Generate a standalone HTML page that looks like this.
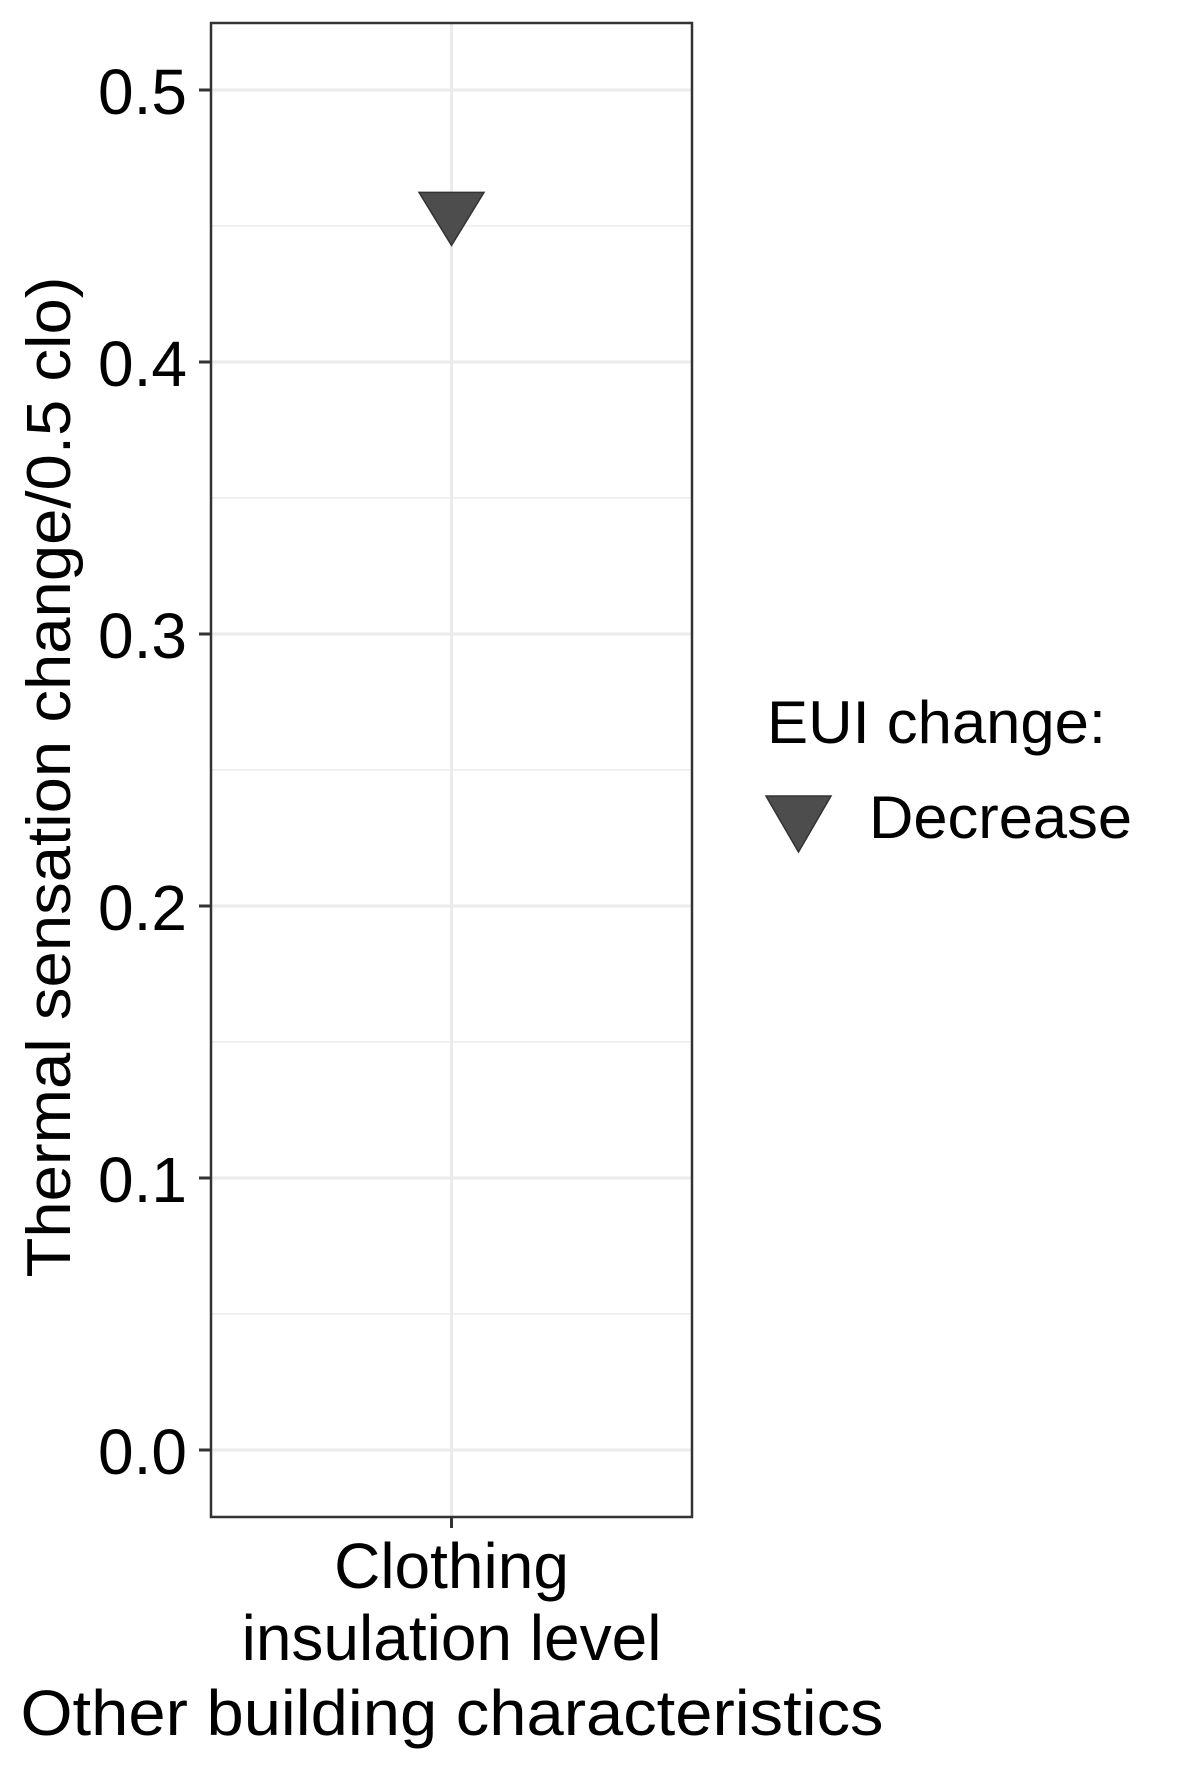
<!DOCTYPE html>
<html><head><meta charset="utf-8"><style>html,body{margin:0;padding:0;background:#fff}svg{display:block}text{font-family:"Liberation Sans",sans-serif;fill:#000}</style></head>
<body>
<svg id="chart" width="1181" height="1771" xmlns="http://www.w3.org/2000/svg">
<rect width="1181" height="1771" fill="#fff"/>
<g id="grid"></g>
<g id="marks"></g>
<rect x="211" y="23" width="481" height="1494" fill="none" stroke="#333" stroke-width="2.5"/>
<g id="axes"></g>
<text transform="translate(70,777) rotate(-90)" text-anchor="middle" font-size="62" textLength="1001" lengthAdjust="spacingAndGlyphs">Thermal sensation change/0.5 clo)</text>
<text x="452" y="1735" text-anchor="middle" font-size="64" textLength="863" lengthAdjust="spacingAndGlyphs">Other building characteristics</text>
<g>
<text x="767" y="743" font-size="60" textLength="339" lengthAdjust="spacingAndGlyphs">EUI change:</text>
<polygon points="766,796 831,796 798.5,852" fill="#4d4d4d" stroke="#333" stroke-width="1.5"/>
<text x="869" y="838" font-size="60" textLength="263" lengthAdjust="spacingAndGlyphs">Decrease</text>
</g>
</svg>
<script>
const categories = ["Clothing\ninsulation level"];
const values = [0.455];
const yTicks = [0, 0.1, 0.2, 0.3, 0.4, 0.5];
const yTickLabels = ["0.0", "0.1", "0.2", "0.3", "0.4", "0.5"];

const NS = "http://www.w3.org/2000/svg";
const panelL = 211, panelR = 692;
function yScale(v){ return 1450 - v * 2720; }
function xScale(i){ return panelL + (panelR - panelL) * (i + 0.5) / categories.length; }
function mk(tag, attrs, parent){ const e = document.createElementNS(NS, tag); for (const k in attrs) e.setAttribute(k, attrs[k]); parent.appendChild(e); return e; }
const grid = document.getElementById('grid'), axes = document.getElementById('axes'), marks = document.getElementById('marks');

for (let i = 0; i < yTicks.length; i++) {
  const y = yScale(yTicks[i]);
  const g = mk('line', {x1: panelL, x2: panelR, y1: y, y2: y, stroke: '#ebebeb', 'stroke-width': 3}, grid);
  
  
  if (i < yTicks.length - 1) {
    const ym = yScale((yTicks[i] + yTicks[i+1]) / 2);
    const m = mk('line', {x1: panelL, x2: panelR, y1: ym, y2: ym, stroke: '#ebebeb', 'stroke-width': 1.5}, grid);
    
    
  }
  const t = mk('line', {x1: 199, x2: 211, y1: y, y2: y, stroke: '#333', 'stroke-width': 3}, axes);
  
  
  const l = mk('text', {x: 187, y: y + 24, 'text-anchor': 'end', 'font-size': 64}, axes);
  l.textContent = yTickLabels[i];
  
  
}
{
  const ym = yScale(yTicks[yTicks.length-1] + 0.05);
  if (ym > 23) { const m = mk('line', {x1: panelL, x2: panelR, y1: ym, y2: ym, stroke: '#ebebeb', 'stroke-width': 1.5}, grid);
  
   }
}
categories.forEach((c, i) => {
  const x = xScale(i);
  const g = mk('line', {x1: x, x2: x, y1: 23, y2: 1517, stroke: '#ebebeb', 'stroke-width': 3}, grid);
  
  
  const t = mk('line', {x1: x, x2: x, y1: 1517, y2: 1528, stroke: '#333', 'stroke-width': 3}, axes);
  
  
  const lines = c.split('\n');
  lines.forEach((s, j) => {
    const l = mk('text', {x: x, y: 1588 + j * 72, 'text-anchor': 'middle', 'font-size': 64}, axes);
    l.textContent = s;
    
    
  });
  const y = yScale(values[i]);
  const p = mk('polygon', {points: `${x-32.5},${y-20} ${x+32.5},${y-20} ${x},${y+33}`, fill: '#4d4d4d', stroke: '#333', 'stroke-width': 1.5}, marks);
  
  
});
</script>
</body></html>
